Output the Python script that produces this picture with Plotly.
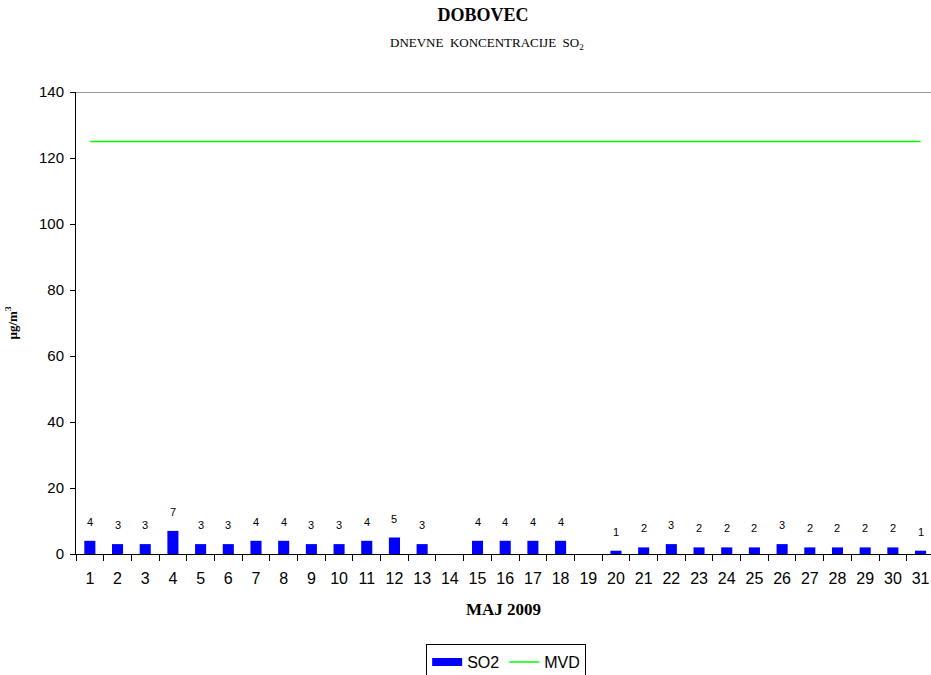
import plotly.graph_objects as go

# Daily SO2 concentrations, May 2009 (µg/m³); None = no measurement
days = [str(d) for d in range(1, 32)]
so2 = [4, 3, 3, 7, 3, 3, 4, 4, 3, 3, 4, 5, 3, None, 4, 4, 4, 4, None,
       1, 2, 3, 2, 2, 2, 3, 2, 2, 2, 2, 1]
mvd_value = 125  # daily limit value
mvd = [mvd_value] * len(days)

y_ticks = [0, 20, 40, 60, 80, 100, 120, 140]

SERIF = "Times New Roman, Liberation Serif, serif"
SANS = "Arial, Liberation Sans, sans-serif"

fig = go.Figure()

fig.add_trace(go.Bar(
    x=days, y=so2, name="SO2", width=0.4,
    marker=dict(color="#0000FF", line=dict(width=0)),
    showlegend=False,
))
# legend key for the bars drawn as a thick band
fig.add_trace(go.Scatter(
    x=[None], y=[None], mode="lines", name="SO2",
    line=dict(color="#0000FF", width=8),
))
fig.add_trace(go.Scatter(
    x=days, y=mvd, mode="lines", name="MVD",
    line=dict(color="#00FF00", width=1.5),
))

# value labels above each bar (x given as category index)
for i, v in enumerate(so2):
    if v is None:
        continue
    fig.add_annotation(
        x=i, y=v, text=str(v), showarrow=False,
        yanchor="bottom", yshift=11,
        font=dict(family=SANS, size=11, color="#000"),
    )

# gray line along the top of the plot area
fig.add_shape(type="line", xref="paper", x0=0, x1=1, yref="y", y0=140, y1=140,
              line=dict(color="#999999", width=2))

fig.add_annotation(
    text="DNEVNE  KONCENTRACIJE  SO<sub>2</sub>",
    xref="paper", yref="paper", x=(487 - 75.7) / 855.3, y=(554 - 44) / 461.5,
    showarrow=False, xanchor="center", yanchor="middle",
    font=dict(family=SERIF, size=13, color="#000"),
)

fig.update_layout(
    width=931, height=675,
    margin=dict(l=76, r=0, t=92, b=121, autoexpand=False),
    paper_bgcolor="white", plot_bgcolor="white",
    title=dict(
        text="<b>DOBOVEC</b>", x=483 / 931, xanchor="center",
        y=1 - 15 / 675, yanchor="middle",
        font=dict(family=SERIF, size=18, color="#000"),
    ),
    xaxis=dict(
        type="category", range=[-0.5, 30.377],
        tickson="boundaries", ticks="outside", ticklen=6, tickangle=0,
        tickcolor="#000", showline=True, linecolor="#000", linewidth=1,
        showgrid=False, zeroline=False, ticklabelstandoff=10,
        tickfont=dict(family=SANS, size=16, color="#000"),
        title=dict(text="<b>MAJ 2009</b>", standoff=16,
                   font=dict(family=SERIF, size=17, color="#000")),
    ),
    yaxis=dict(
        range=[0, 140], tickvals=y_ticks, ticks="outside", ticklen=5,
        tickcolor="#000", showline=True, linecolor="#000", linewidth=1,
        showgrid=False, zeroline=False, ticklabelstandoff=3,
        tickfont=dict(family=SANS, size=15, color="#000"),
        title=dict(text="<b>µg/m<sup>3</sup></b>", standoff=18,
                   font=dict(family=SERIF, size=13, color="#000")),
    ),
    legend=dict(
        orientation="h", x=(506 - 75.7) / 855.3, xanchor="center",
        y=(554 - 644) / 461.5, yanchor="top",
        bordercolor="#000", borderwidth=1, bgcolor="white",
        font=dict(family=SANS, size=16, color="#000"),
        itemwidth=30, tracegroupgap=0,
    ),
    bargap=0.6,
)

fig.write_html("out.html")
